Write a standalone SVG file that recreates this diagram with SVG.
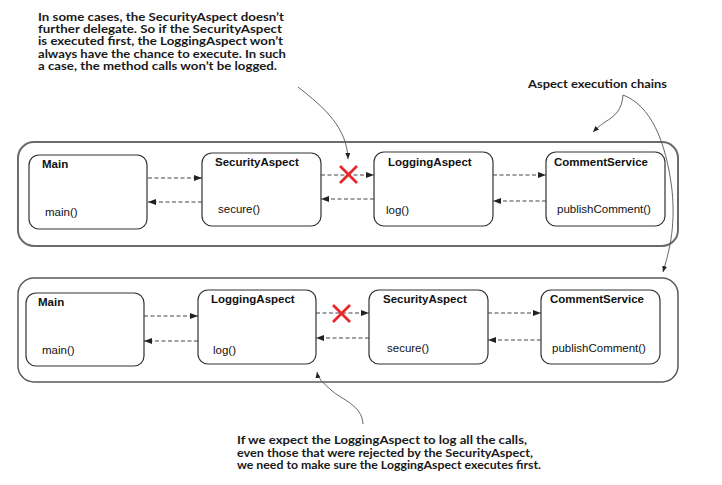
<svg xmlns="http://www.w3.org/2000/svg" width="722" height="485" viewBox="0 0 722 485">
<style>
.outer{fill:none;stroke:#6b6b6b;stroke-width:2}
.outer2{fill:none;stroke:#5a5a5a;stroke-width:1.5}
.node{fill:#fff;stroke:#333;stroke-width:1.2}
.title{font-family:"Liberation Sans",Arial,sans-serif;font-weight:bold;font-size:11.5px;fill:#111}
.method{font-family:"Liberation Sans",Arial,sans-serif;font-size:11.5px;fill:#111}
.note{font-family:Lato,"DejaVu Sans",sans-serif;font-weight:bold;font-size:11.5px;fill:#1a1a1a}
.dash{fill:none;stroke:#444;stroke-width:1.2;stroke-dasharray:4 2.5}
.callout{fill:none;stroke:#555;stroke-width:0.9}
.xmark{stroke:#e8262a;stroke-width:2.6;stroke-linecap:butt}
</style>
<defs>
<marker id="ah" markerUnits="userSpaceOnUse" markerWidth="9" markerHeight="7" refX="8" refY="3" orient="auto">
<path d="M0,0 L8,3 L0,6 z" fill="#222"/>
</marker>
<marker id="ch" markerUnits="userSpaceOnUse" markerWidth="7" markerHeight="6" refX="6" refY="2.5" orient="auto">
<path d="M0,0 L6,2.5 L0,5 z" fill="#222"/>
</marker>
</defs>
<rect width="722" height="485" fill="#fff"/>

<g id="note-top">
<text class="note" x="38" y="21" textLength="246" lengthAdjust="spacingAndGlyphs">In some cases, the SecurityAspect doesn’t</text>
<text class="note" x="38" y="33.2" textLength="244" lengthAdjust="spacingAndGlyphs">further delegate. So if the SecurityAspect</text>
<text class="note" x="38" y="45.4" textLength="245" lengthAdjust="spacingAndGlyphs">is executed first, the LoggingAspect won’t</text>
<text class="note" x="38" y="57.6" textLength="248" lengthAdjust="spacingAndGlyphs">always have the chance to execute. In such</text>
<text class="note" x="38" y="69.8" textLength="239" lengthAdjust="spacingAndGlyphs">a case, the method calls won’t be logged.</text>
</g>

<g id="note-chains">
<text class="note" x="528" y="88" textLength="139" lengthAdjust="spacingAndGlyphs">Aspect execution chains</text>
</g>

<g id="note-bottom">
<text class="note" x="237" y="444" textLength="290" lengthAdjust="spacingAndGlyphs">If we expect the LoggingAspect to log all the calls,</text>
<text class="note" x="237" y="456.5" textLength="296" lengthAdjust="spacingAndGlyphs">even those that were rejected by the SecurityAspect,</text>
<text class="note" x="237" y="469" textLength="304" lengthAdjust="spacingAndGlyphs">we need to make sure the LoggingAspect executes first.</text>
</g>

<g id="chain-top">
<rect class="outer" x="18" y="142" width="660" height="104" rx="16"/>
</g>
<g id="chain-bottom">
<rect class="outer2" x="18" y="278" width="660" height="104" rx="16"/>
</g>

<g id="top-main">
<rect class="node" x="29" y="155" width="118" height="74" rx="10"/>
<text class="title" x="42" y="168">Main</text>
<text class="method" x="45" y="216">main()</text>
</g>
<g id="top-security">
<rect class="node" x="202" y="153" width="119" height="73" rx="10"/>
<text class="title" x="215" y="166">SecurityAspect</text>
<text class="method" x="218" y="213">secure()</text>
</g>
<g id="top-logging">
<rect class="node" x="374" y="152" width="119" height="74" rx="10"/>
<text class="title" x="388" y="166">LoggingAspect</text>
<text class="method" x="386" y="214">log()</text>
</g>
<g id="top-comment">
<rect class="node" x="546" y="152" width="119" height="74" rx="10"/>
<text class="title" x="554" y="166">CommentService</text>
<text class="method" x="557" y="213">publishComment()</text>
</g>

<g id="bottom-main">
<rect class="node" x="26" y="293" width="118" height="73" rx="10"/>
<text class="title" x="38" y="306">Main</text>
<text class="method" x="42" y="354">main()</text>
</g>
<g id="bottom-logging">
<rect class="node" x="198" y="290" width="118" height="74" rx="10"/>
<text class="title" x="211" y="303">LoggingAspect</text>
<text class="method" x="213" y="354">log()</text>
</g>
<g id="bottom-security">
<rect class="node" x="369" y="290" width="119" height="74" rx="10"/>
<text class="title" x="383" y="303">SecurityAspect</text>
<text class="method" x="387" y="352">secure()</text>
</g>
<g id="bottom-comment">
<rect class="node" x="541" y="290" width="119" height="74" rx="10"/>
<text class="title" x="550" y="303">CommentService</text>
<text class="method" x="552" y="352">publishComment()</text>
</g>

<g id="connectors">
<line class="dash" x1="148" y1="178" x2="202" y2="178" marker-end="url(#ah)"/>
<line class="dash" x1="202" y1="202" x2="148" y2="202" marker-end="url(#ah)"/>
<line class="dash" x1="321" y1="175" x2="374" y2="175" marker-end="url(#ah)"/>
<line class="dash" x1="374" y1="199" x2="321" y2="199" marker-end="url(#ah)"/>
<line class="dash" x1="493" y1="175" x2="546" y2="175" marker-end="url(#ah)"/>
<line class="dash" x1="546" y1="201" x2="493" y2="201" marker-end="url(#ah)"/>

<line class="dash" x1="144" y1="316" x2="198" y2="316" marker-end="url(#ah)"/>
<line class="dash" x1="198" y1="341" x2="144" y2="341" marker-end="url(#ah)"/>
<line class="dash" x1="316" y1="313" x2="369" y2="313" marker-end="url(#ah)"/>
<line class="dash" x1="369" y1="338" x2="316" y2="338" marker-end="url(#ah)"/>
<line class="dash" x1="488" y1="313" x2="541" y2="313" marker-end="url(#ah)"/>
<line class="dash" x1="541" y1="340" x2="488" y2="340" marker-end="url(#ah)"/>

<path class="callout" d="M298,87 C325,108 347,128 348,159" marker-end="url(#ch)"/>
<path class="callout" d="M623,95 C622,110 615,116 605,122 C598,127 595,130 593,132" marker-end="url(#ch)"/>
<path class="callout" d="M623,95 C650,105 666,140 672,190 C676,230 668,255 663,272" marker-end="url(#ch)"/>
<path class="callout" d="M363,424 C362,405 342,400 331,390 C323,383 318,378 317,372" marker-end="url(#ch)"/>
</g>

<g id="x-top">
<line class="xmark" x1="340" y1="166" x2="357" y2="183"/>
<line class="xmark" x1="357" y1="166" x2="340" y2="183"/>
</g>
<g id="x-bottom">
<line class="xmark" x1="333" y1="305" x2="350" y2="322"/>
<line class="xmark" x1="350" y1="305" x2="333" y2="322"/>
</g>
</svg>
